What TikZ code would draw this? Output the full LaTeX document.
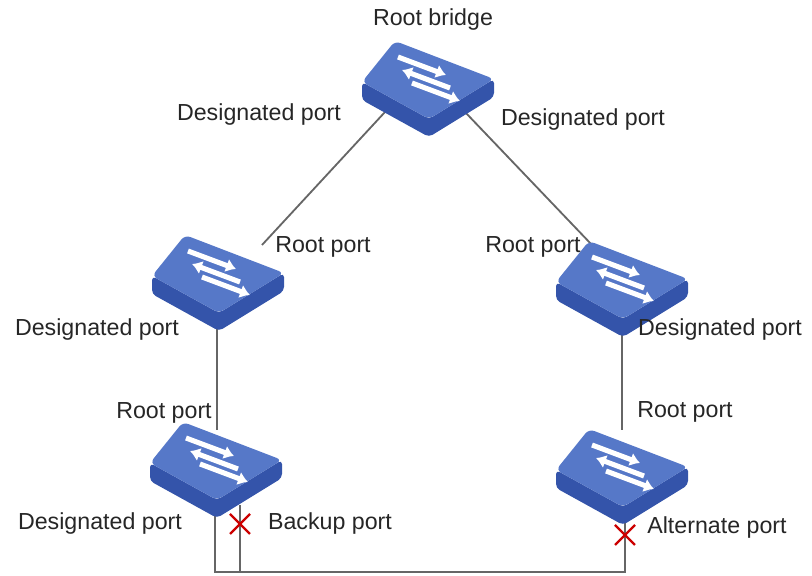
\documentclass[tikz,border=0pt]{standalone}
\usepackage{fontspec}
\setmainfont{Liberation Sans}
\usetikzlibrary{positioning}
\definecolor{swtop}{RGB}{86,120,200}
\definecolor{swside}{RGB}{52,84,170}
\tikzset{
  lbl/.style={font=\fontsize{16.5}{18}\selectfont, text=black!85, inner sep=1pt},
  link/.style={draw=black!60, line width=1.3pt},
  block/.style={draw=red!80!black, line width=1.6pt},
  pics/switch/.style={code={
    \fill[swside, rounded corners=3pt] (-66,2) -- (-66,20) -- (1,57) -- (66,17) -- (66,-1) -- (1,39) -- cycle;
    \fill[swtop, rounded corners=4pt] (-66,2) -- (-33,-39) -- (66,-1) -- (1,39) -- cycle;
    \foreach \dx/\dy/\dir in {-6/-14/1,-2/-1/-1,8/12/1}{
      \draw[white, line width=3.6pt, -{Latex[length=7pt,width=10pt]}]
        (\dx-24*\dir,\dy-9*\dir) -- (\dx+24*\dir,\dy+9*\dir);
    }
  }}
}
\usetikzlibrary{arrows.meta}
\begin{document}
\begin{tikzpicture}[x=0.025cm,y=-0.025cm]
\useasboundingbox (0,0) rectangle (812,576);
% links
\coordinate (rbl) at (385,112);
\coordinate (rbr) at (465,112);
\coordinate (mla) at (262,245);
\coordinate (mra) at (592,245);
\coordinate (mlb) at (217,320);
\coordinate (mrb) at (622,320);
\coordinate (bla) at (217,430);
\coordinate (bra) at (622,430);
\coordinate (blb) at (215,510);
\coordinate (blc) at (240,505);
\coordinate (brb) at (625,510);
\coordinate (c1) at (215,572);
\coordinate (c2) at (240,572);
\coordinate (c3) at (625,572);
\draw[link] (rbl) -- (mla);
\draw[link] (rbr) -- (mra);
\draw[link] (mlb) -- (bla);
\draw[link] (mrb) -- (bra);
\draw[link] (blb) -- (c1) -- (c3) -- (brb);
\draw[link] (blc) -- (c2);
% switches
\pic at (428,80) {switch};
\pic at (218,274) {switch};
\pic at (622,280) {switch};
\pic at (216,461) {switch};
\pic at (622,468) {switch};
% blocked ports
\draw[block] (230,514) -- (250,534) (230,534) -- (250,514);
\draw[block] (615,525) -- (635,545) (615,545) -- (635,525);
% labels
\node[lbl] (root) at (433,20) {Root bridge};
\node[lbl] (dp1) at (259,115) {Designated port};
\node[lbl] (dp2) at (583,120) {Designated port};
\node[lbl] (rp1) at (323,247) {Root port};
\node[lbl] (rp2) at (533,247) {Root port};
\node[lbl] (dp3) at (97,330) {Designated port};
\node[lbl] (dp4) at (720,330) {Designated port};
\node[lbl] (rp3) at (164,413) {Root port};
\node[lbl] (rp4) at (685,412) {Root port};
\node[lbl] (dp5) at (100,524) {Designated port};
\node[lbl] (bp) at (330,524) {Backup port};
\node[lbl] (ap) at (717,528) {Alternate port};
\end{tikzpicture}
\end{document}
